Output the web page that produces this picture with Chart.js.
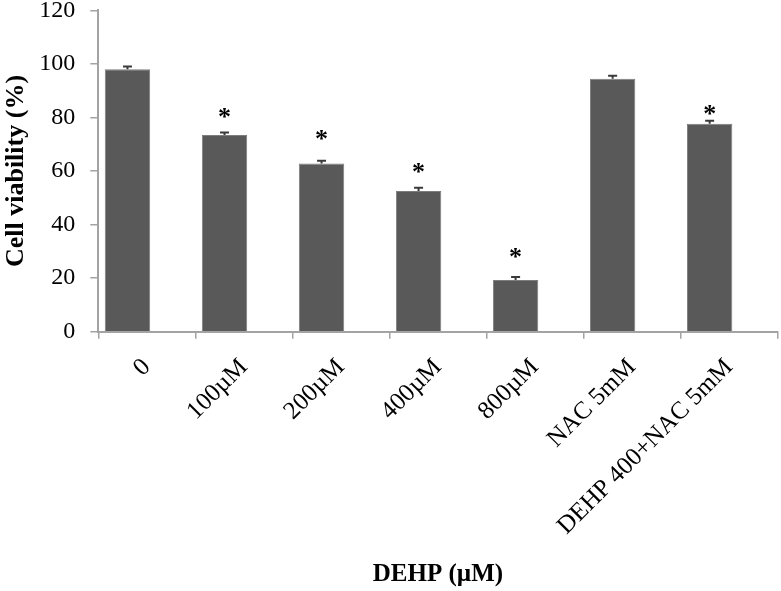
<!DOCTYPE html>
<html>
<head>
<meta charset="utf-8">
<script src="https://cdn.jsdelivr.net/npm/chart.js@4.4.1/dist/chart.umd.min.js"></script>
<style>
  html, body { margin: 0; padding: 0; background: #fff; }
  #wrap { position: relative; width: 781px; height: 591px; }
</style>
</head>
<body>
<div id="wrap"><canvas id="viability"></canvas></div>
<script>
const groups = ["0", "100\u00b5M", "200\u00b5M", "400\u00b5M", "800\u00b5M", "NAC 5mM", "DEHP 400+NAC 5mM"];
const viability = [98.0, 73.4, 62.8, 52.5, 19.3, 94.4, 77.6];
const viabilityErr = [1.0, 1.0, 1.0, 1.2, 1.1, 1.2, 1.2];
// asterisk height (in % units) for groups marked significant
const starLevel = [null, 81.7, 73.4, 61.2, 29.2, null, 82.7];
const yTicks = [0, 20, 40, 60, 80, 100, 120];

const axisGray = "#a3a3a3";
const serif = "'Liberation Serif', 'Times New Roman', serif";

// error bars (upper only) and significance stars
const markerPlugin = {
  id: "markers",
  afterDatasetsDraw(chart) {
    const ctx = chart.ctx;
    const y = chart.scales.y;
    const meta = chart.getDatasetMeta(0);
    ctx.save();
    meta.data.forEach((bar, i) => {
      const top = y.getPixelForValue(viability[i] + viabilityErr[i]);
      ctx.strokeStyle = "#3a3a3a";
      ctx.lineWidth = 2;
      ctx.beginPath();
      ctx.moveTo(bar.x, bar.y);
      ctx.lineTo(bar.x, top);
      ctx.moveTo(bar.x - 4.5, top);
      ctx.lineTo(bar.x + 4.5, top);
      ctx.stroke();

      if (starLevel[i] != null) {
        ctx.font = "bold 26px " + serif;
        ctx.fillStyle = "#000";
        ctx.textAlign = "center";
        ctx.textBaseline = "alphabetic";
        const m = ctx.measureText("*");
        const yc = y.getPixelForValue(starLevel[i]);
        ctx.fillText("*", bar.x, yc + (m.actualBoundingBoxAscent - m.actualBoundingBoxDescent) / 2);
      }
    });
    ctx.restore();
  },
};

new Chart(document.getElementById("viability"), {
  type: "bar",
  data: {
    labels: groups,
    datasets: [
      {
        label: "Cell viability",
        data: viability,
        backgroundColor: "#595959",
        borderColor: "#7d7d7d",
        borderWidth: 1,
      },
      {
        // empty second series, keeps bars left of the category centre
        label: "",
        data: groups.map(() => null),
        backgroundColor: "#595959",
      },
    ],
  },
  options: {
    responsive: true,
    maintainAspectRatio: false,
    animation: false,
    categoryPercentage: 0.797,
    barPercentage: 1.174,
    layout: { padding: { top: 0, right: 3.5, bottom: 0, left: 0 } },
    plugins: {
      legend: { display: false },
      tooltip: { enabled: false },
    },
    scales: {
      x: {
        grid: {
          display: true,
          drawOnChartArea: false,
          drawTicks: true,
          tickLength: 7,
          color: axisGray,
          lineWidth: 1.5,
        },
        border: { display: true, color: axisGray, width: 2 },
        ticks: {
          autoSkip: false,
          minRotation: 45,
          maxRotation: 45,
          padding: 14,
          color: "#000",
          font: { family: serif, size: 25 },
        },
        title: {
          display: true,
          text: "DEHP (\u00b5M)",
          color: "#000",
          font: { family: serif, size: 25, weight: "bold" },
          padding: { top: 0, bottom: 1 },
        },
        afterFit(scale) {
          scale.height = 259.3;
          scale.paddingLeft = 0;
          scale.paddingRight = 0;
        },
      },
      y: {
        min: 0,
        max: 120,
        afterBuildTicks(scale) {
          scale.ticks = yTicks.map((v) => ({ value: v }));
        },
        grid: {
          display: true,
          drawOnChartArea: false,
          drawTicks: true,
          tickLength: 8,
          color: axisGray,
          lineWidth: 1.5,
        },
        border: { display: true, color: axisGray, width: 2 },
        ticks: {
          padding: 15,
          color: "#000",
          font: { family: serif, size: 24 },
        },
        title: {
          display: true,
          text: "Cell viability (%)",
          color: "#000",
          font: { family: serif, size: 26, weight: "bold" },
          padding: { top: 1, bottom: 0 },
        },
        afterFit(scale) {
          scale.width = 98.3;
          scale.paddingTop = 10.3;
          scale.paddingBottom = 0;
        },
      },
    },
  },
  plugins: [markerPlugin],
});
</script>
</body>
</html>
